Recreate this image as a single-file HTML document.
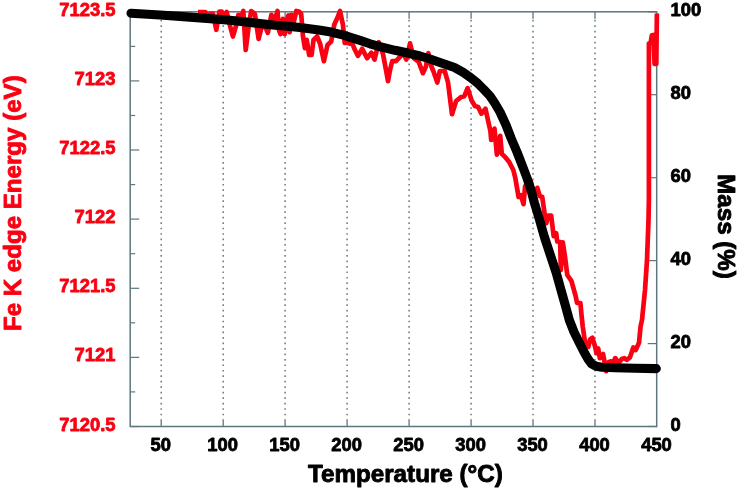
<!DOCTYPE html>
<html lang="en">
<head>
<meta charset="utf-8">
<title>Fe K edge Energy and Mass vs Temperature</title>
<style>
html,body{margin:0;padding:0;background:#fff;}
body{width:740px;height:490px;overflow:hidden;font-family:"Liberation Sans",Arial,sans-serif;}
svg{display:block;}
</style>
</head>
<body>
<svg width="740" height="490" viewBox="0 0 740 490">
<rect width="740" height="490" fill="#fff"/>
<line x1="161.2" y1="19.8" x2="161.2" y2="419.5" stroke="#5f767e" stroke-width="1.5" stroke-dasharray="1.7 3.77" opacity="0.95"/>
<line x1="161.2" y1="11.8" x2="161.2" y2="18.8" stroke="#5f767e" stroke-width="1.3"/>
<line x1="161.2" y1="426.5" x2="161.2" y2="419.5" stroke="#5f767e" stroke-width="1.3"/>
<line x1="223.2" y1="19.8" x2="223.2" y2="419.5" stroke="#5f767e" stroke-width="1.5" stroke-dasharray="1.7 3.77" opacity="0.95"/>
<line x1="223.2" y1="11.8" x2="223.2" y2="18.8" stroke="#5f767e" stroke-width="1.3"/>
<line x1="223.2" y1="426.5" x2="223.2" y2="419.5" stroke="#5f767e" stroke-width="1.3"/>
<line x1="285.1" y1="19.8" x2="285.1" y2="419.5" stroke="#5f767e" stroke-width="1.5" stroke-dasharray="1.7 3.77" opacity="0.95"/>
<line x1="285.1" y1="11.8" x2="285.1" y2="18.8" stroke="#5f767e" stroke-width="1.3"/>
<line x1="285.1" y1="426.5" x2="285.1" y2="419.5" stroke="#5f767e" stroke-width="1.3"/>
<line x1="347.1" y1="19.8" x2="347.1" y2="419.5" stroke="#5f767e" stroke-width="1.5" stroke-dasharray="1.7 3.77" opacity="0.95"/>
<line x1="347.1" y1="11.8" x2="347.1" y2="18.8" stroke="#5f767e" stroke-width="1.3"/>
<line x1="347.1" y1="426.5" x2="347.1" y2="419.5" stroke="#5f767e" stroke-width="1.3"/>
<line x1="409.1" y1="19.8" x2="409.1" y2="419.5" stroke="#5f767e" stroke-width="1.5" stroke-dasharray="1.7 3.77" opacity="0.95"/>
<line x1="409.1" y1="11.8" x2="409.1" y2="18.8" stroke="#5f767e" stroke-width="1.3"/>
<line x1="409.1" y1="426.5" x2="409.1" y2="419.5" stroke="#5f767e" stroke-width="1.3"/>
<line x1="471.1" y1="19.8" x2="471.1" y2="419.5" stroke="#5f767e" stroke-width="1.5" stroke-dasharray="1.7 3.77" opacity="0.95"/>
<line x1="471.1" y1="11.8" x2="471.1" y2="18.8" stroke="#5f767e" stroke-width="1.3"/>
<line x1="471.1" y1="426.5" x2="471.1" y2="419.5" stroke="#5f767e" stroke-width="1.3"/>
<line x1="533.0" y1="19.8" x2="533.0" y2="419.5" stroke="#5f767e" stroke-width="1.5" stroke-dasharray="1.7 3.77" opacity="0.95"/>
<line x1="533.0" y1="11.8" x2="533.0" y2="18.8" stroke="#5f767e" stroke-width="1.3"/>
<line x1="533.0" y1="426.5" x2="533.0" y2="419.5" stroke="#5f767e" stroke-width="1.3"/>
<line x1="595.0" y1="19.8" x2="595.0" y2="419.5" stroke="#5f767e" stroke-width="1.5" stroke-dasharray="1.7 3.77" opacity="0.95"/>
<line x1="595.0" y1="11.8" x2="595.0" y2="18.8" stroke="#5f767e" stroke-width="1.3"/>
<line x1="595.0" y1="426.5" x2="595.0" y2="419.5" stroke="#5f767e" stroke-width="1.3"/>
<rect x="130.2" y="11.8" width="526.5" height="414.7" fill="none" stroke="#5f767e" stroke-width="1.5"/>
<line x1="130.2" y1="11.8" x2="139.2" y2="11.8" stroke="#5f767e" stroke-width="1.2"/>
<line x1="130.2" y1="46.4" x2="135.2" y2="46.4" stroke="#5f767e" stroke-width="1.2"/>
<line x1="130.2" y1="80.9" x2="139.2" y2="80.9" stroke="#5f767e" stroke-width="1.2"/>
<line x1="130.2" y1="115.5" x2="135.2" y2="115.5" stroke="#5f767e" stroke-width="1.2"/>
<line x1="130.2" y1="150.0" x2="139.2" y2="150.0" stroke="#5f767e" stroke-width="1.2"/>
<line x1="130.2" y1="184.6" x2="135.2" y2="184.6" stroke="#5f767e" stroke-width="1.2"/>
<line x1="130.2" y1="219.1" x2="139.2" y2="219.1" stroke="#5f767e" stroke-width="1.2"/>
<line x1="130.2" y1="253.7" x2="135.2" y2="253.7" stroke="#5f767e" stroke-width="1.2"/>
<line x1="130.2" y1="288.3" x2="139.2" y2="288.3" stroke="#5f767e" stroke-width="1.2"/>
<line x1="130.2" y1="322.8" x2="135.2" y2="322.8" stroke="#5f767e" stroke-width="1.2"/>
<line x1="130.2" y1="357.4" x2="139.2" y2="357.4" stroke="#5f767e" stroke-width="1.2"/>
<line x1="130.2" y1="391.9" x2="135.2" y2="391.9" stroke="#5f767e" stroke-width="1.2"/>
<line x1="130.2" y1="426.5" x2="139.2" y2="426.5" stroke="#5f767e" stroke-width="1.2"/>
<line x1="656.7" y1="11.8" x2="647.7" y2="11.8" stroke="#5f767e" stroke-width="1.2"/>
<line x1="656.7" y1="94.7" x2="647.7" y2="94.7" stroke="#5f767e" stroke-width="1.2"/>
<line x1="656.7" y1="177.7" x2="647.7" y2="177.7" stroke="#5f767e" stroke-width="1.2"/>
<line x1="656.7" y1="260.6" x2="647.7" y2="260.6" stroke="#5f767e" stroke-width="1.2"/>
<line x1="656.7" y1="343.6" x2="647.7" y2="343.6" stroke="#5f767e" stroke-width="1.2"/>
<line x1="656.7" y1="426.5" x2="647.7" y2="426.5" stroke="#5f767e" stroke-width="1.2"/>
<path d="M198.0,12.0 L205.3,12.0 L207.5,16.2 L210.0,14.0 L213.0,13.8 L216.3,29.8 L219.4,11.5 L221.8,11.5 L223.5,19.2 L226.7,12.0 L229.0,22.0 L232.9,36.5 L236.0,26.0 L238.4,14.8 L241.0,17.2 L243.3,11.0 L245.7,50.0 L249.0,24.0 L251.2,11.0 L254.9,14.0 L258.6,39.0 L262.2,24.8 L265.0,26.0 L267.8,32.9 L271.4,14.8 L274.5,21.2 L277.5,11.0 L279.0,30.0 L280.4,34.1 L282.9,18.8 L284.7,34.2 L286.5,22.0 L288.4,15.5 L289.6,32.2 L291.4,14.8 L293.5,23.2 L296.3,11.0 L298.8,11.5 L301.2,14.0 L303.0,36.7 L304.9,48.2 L306.7,39.8 L309.2,55.0 L311.6,55.0 L313.5,40.0 L317.1,36.3 L320.2,44.0 L323.9,61.2 L327.5,45.0 L331.2,41.6 L334.3,24.5 L337.3,18.0 L340.0,11.0 L342.9,24.5 L344.7,42.9 L348.4,43.0 L350.0,43.7 L352.4,43.8 L355.0,50.0 L358.0,55.9 L362.2,48.8 L367.1,58.2 L371.4,52.8 L374.5,59.6 L378.8,42.2 L383.0,54.0 L386.0,70.0 L388.0,81.2 L390.0,70.0 L392.2,61.2 L396.0,61.2 L400.2,56.7 L403.3,52.8 L406.3,59.6 L410.0,43.4 L413.7,58.0 L418.6,61.6 L422.9,73.2 L425.9,66.5 L428.4,53.2 L431.4,66.5 L433.3,71.0 L437.3,82.5 L439.8,71.0 L444.7,71.0 L448.0,82.4 L452.0,114.2 L456.1,101.0 L461.0,97.1 L464.3,96.2 L467.6,88.1 L471.6,100.4 L474.9,106.0 L478.2,107.0 L481.4,113.7 L485.5,108.8 L487.1,116.3 L490.4,131.0 L491.2,140.0 L494.5,128.6 L496.9,154.7 L500.2,135.8 L501.8,153.9 L505.1,157.0 L509.2,162.0 L513.3,170.0 L515.3,178.0 L518.6,197.0 L521.0,195.3 L523.5,204.2 L525.1,186.3 L530.8,181.4 L534.1,197.0 L537.3,187.8 L539.8,196.2 L542.2,196.8 L544.7,214.0 L546.3,223.2 L548.0,215.7 L551.2,215.7 L553.7,236.2 L556.2,233.3 L557.2,241.5 L560.2,242.0 L560.8,270.2 L562.8,242.4 L564.9,256.0 L567.3,275.0 L571.4,280.8 L575.5,295.5 L577.1,302.9 L580.4,303.0 L581.5,315.0 L582.7,326.3 L585.1,342.7 L588.4,346.8 L590.0,339.4 L592.4,337.8 L594.9,346.0 L596.5,353.2 L598.2,348.4 L599.8,358.2 L603.1,354.1 L606.3,371.2 L608.8,362.0 L611.2,361.4 L612.9,363.2 L615.3,358.1 L618.6,363.2 L621.8,359.0 L624.3,358.1 L626.7,359.8 L630.0,357.3 L633.3,347.5 L635.7,350.0 L639.0,342.7 L640.6,326.3 L642.0,320.0 L645.0,290.0 L647.0,260.0 L648.5,220.0 L648.9,200.0 L648.9,100.0 L648.9,43.5 L650.6,43.0 L651.8,35.3 L653.3,35.0 L654.6,64.0 L656.3,64.0 L656.9,13.5" fill="none" stroke="#fb0012" stroke-width="4.7" stroke-linejoin="round" stroke-linecap="butt"/>
<path d="M131.0,13.2 L160.0,15.0 L190.0,17.1 L230.0,20.3 L275.0,25.2 L285.0,26.0 L300.0,27.5 L319.0,30.0 L331.0,32.1 L343.5,35.2 L352.0,37.8 L360.0,40.4 L370.0,43.8 L380.0,46.7 L395.0,50.3 L409.0,53.3 L420.0,56.0 L430.0,59.0 L440.0,62.5 L454.5,67.5 L463.0,72.2 L470.8,77.7 L478.0,83.6 L484.0,89.6 L490.0,96.0 L495.0,103.5 L500.0,112.0 L506.0,125.0 L511.0,138.0 L517.0,152.0 L522.2,165.3 L527.0,178.0 L531.0,190.0 L534.4,202.7 L539.0,218.0 L544.4,237.0 L550.0,254.0 L556.2,272.7 L561.0,290.0 L565.5,306.0 L569.3,320.0 L574.0,332.0 L579.7,343.5 L584.0,352.0 L588.0,359.0 L591.5,363.8 L596.0,366.3 L602.0,367.3 L615.0,367.8 L635.0,368.3 L656.3,368.6" fill="none" stroke="#000" stroke-width="9.1" stroke-linejoin="round" stroke-linecap="round"/>
<text x="115.5" y="15.8" font-family="'Liberation Sans', Arial, Helvetica, sans-serif" font-weight="bold" stroke-linejoin="round" font-size="18.4" text-anchor="end" fill="#fb0012" stroke="#fb0012" stroke-width="0.8">7123.5</text>
<text x="115.5" y="84.9" font-family="'Liberation Sans', Arial, Helvetica, sans-serif" font-weight="bold" stroke-linejoin="round" font-size="18.4" text-anchor="end" fill="#fb0012" stroke="#fb0012" stroke-width="0.8">7123</text>
<text x="115.5" y="154.0" font-family="'Liberation Sans', Arial, Helvetica, sans-serif" font-weight="bold" stroke-linejoin="round" font-size="18.4" text-anchor="end" fill="#fb0012" stroke="#fb0012" stroke-width="0.8">7122.5</text>
<text x="115.5" y="223.1" font-family="'Liberation Sans', Arial, Helvetica, sans-serif" font-weight="bold" stroke-linejoin="round" font-size="18.4" text-anchor="end" fill="#fb0012" stroke="#fb0012" stroke-width="0.8">7122</text>
<text x="115.5" y="292.3" font-family="'Liberation Sans', Arial, Helvetica, sans-serif" font-weight="bold" stroke-linejoin="round" font-size="18.4" text-anchor="end" fill="#fb0012" stroke="#fb0012" stroke-width="0.8">7121.5</text>
<text x="115.5" y="361.4" font-family="'Liberation Sans', Arial, Helvetica, sans-serif" font-weight="bold" stroke-linejoin="round" font-size="18.4" text-anchor="end" fill="#fb0012" stroke="#fb0012" stroke-width="0.8">7121</text>
<text x="115.5" y="430.5" font-family="'Liberation Sans', Arial, Helvetica, sans-serif" font-weight="bold" stroke-linejoin="round" font-size="18.4" text-anchor="end" fill="#fb0012" stroke="#fb0012" stroke-width="0.8">7120.5</text>
<text x="670.5" y="15.8" font-family="'Liberation Sans', Arial, Helvetica, sans-serif" font-weight="bold" stroke-linejoin="round" font-size="18.4" text-anchor="start" fill="#000" stroke="#000" stroke-width="0.8">100</text>
<text x="670.5" y="98.7" font-family="'Liberation Sans', Arial, Helvetica, sans-serif" font-weight="bold" stroke-linejoin="round" font-size="18.4" text-anchor="start" fill="#000" stroke="#000" stroke-width="0.8">80</text>
<text x="670.5" y="181.7" font-family="'Liberation Sans', Arial, Helvetica, sans-serif" font-weight="bold" stroke-linejoin="round" font-size="18.4" text-anchor="start" fill="#000" stroke="#000" stroke-width="0.8">60</text>
<text x="670.5" y="264.6" font-family="'Liberation Sans', Arial, Helvetica, sans-serif" font-weight="bold" stroke-linejoin="round" font-size="18.4" text-anchor="start" fill="#000" stroke="#000" stroke-width="0.8">40</text>
<text x="670.5" y="347.6" font-family="'Liberation Sans', Arial, Helvetica, sans-serif" font-weight="bold" stroke-linejoin="round" font-size="18.4" text-anchor="start" fill="#000" stroke="#000" stroke-width="0.8">20</text>
<text x="670.5" y="430.5" font-family="'Liberation Sans', Arial, Helvetica, sans-serif" font-weight="bold" stroke-linejoin="round" font-size="18.4" text-anchor="start" fill="#000" stroke="#000" stroke-width="0.8">0</text>
<text x="160.7" y="450.6" font-family="'Liberation Sans', Arial, Helvetica, sans-serif" font-weight="bold" stroke-linejoin="round" font-size="18.4" text-anchor="middle" fill="#000" stroke="#000" stroke-width="0.8">50</text>
<text x="222.7" y="450.6" font-family="'Liberation Sans', Arial, Helvetica, sans-serif" font-weight="bold" stroke-linejoin="round" font-size="18.4" text-anchor="middle" fill="#000" stroke="#000" stroke-width="0.8">100</text>
<text x="284.6" y="450.6" font-family="'Liberation Sans', Arial, Helvetica, sans-serif" font-weight="bold" stroke-linejoin="round" font-size="18.4" text-anchor="middle" fill="#000" stroke="#000" stroke-width="0.8">150</text>
<text x="346.6" y="450.6" font-family="'Liberation Sans', Arial, Helvetica, sans-serif" font-weight="bold" stroke-linejoin="round" font-size="18.4" text-anchor="middle" fill="#000" stroke="#000" stroke-width="0.8">200</text>
<text x="408.6" y="450.6" font-family="'Liberation Sans', Arial, Helvetica, sans-serif" font-weight="bold" stroke-linejoin="round" font-size="18.4" text-anchor="middle" fill="#000" stroke="#000" stroke-width="0.8">250</text>
<text x="470.6" y="450.6" font-family="'Liberation Sans', Arial, Helvetica, sans-serif" font-weight="bold" stroke-linejoin="round" font-size="18.4" text-anchor="middle" fill="#000" stroke="#000" stroke-width="0.8">300</text>
<text x="532.5" y="450.6" font-family="'Liberation Sans', Arial, Helvetica, sans-serif" font-weight="bold" stroke-linejoin="round" font-size="18.4" text-anchor="middle" fill="#000" stroke="#000" stroke-width="0.8">350</text>
<text x="594.5" y="450.6" font-family="'Liberation Sans', Arial, Helvetica, sans-serif" font-weight="bold" stroke-linejoin="round" font-size="18.4" text-anchor="middle" fill="#000" stroke="#000" stroke-width="0.8">400</text>
<text x="656.5" y="450.6" font-family="'Liberation Sans', Arial, Helvetica, sans-serif" font-weight="bold" stroke-linejoin="round" font-size="18.4" text-anchor="middle" fill="#000" stroke="#000" stroke-width="0.8">450</text>
<text x="405.4" y="481.8" font-family="'Liberation Sans', Arial, Helvetica, sans-serif" font-weight="bold" stroke-linejoin="round" font-size="24.2" text-anchor="middle" fill="#000" stroke="#000" stroke-width="0.9">Temperature (°C)</text>
<text transform="translate(20.8,203.2) rotate(-90)" font-family="'Liberation Sans', Arial, Helvetica, sans-serif" font-weight="bold" stroke-linejoin="round" font-size="24.1" text-anchor="middle" fill="#fb0012" stroke="#fb0012" stroke-width="0.9">Fe K edge Energy (eV)</text>
<text transform="translate(718,226.5) rotate(90)" font-family="'Liberation Sans', Arial, Helvetica, sans-serif" font-weight="bold" stroke-linejoin="round" font-size="24.2" text-anchor="middle" fill="#000" stroke="#000" stroke-width="0.9">Mass (%)</text>
</svg>
</body>
</html>
